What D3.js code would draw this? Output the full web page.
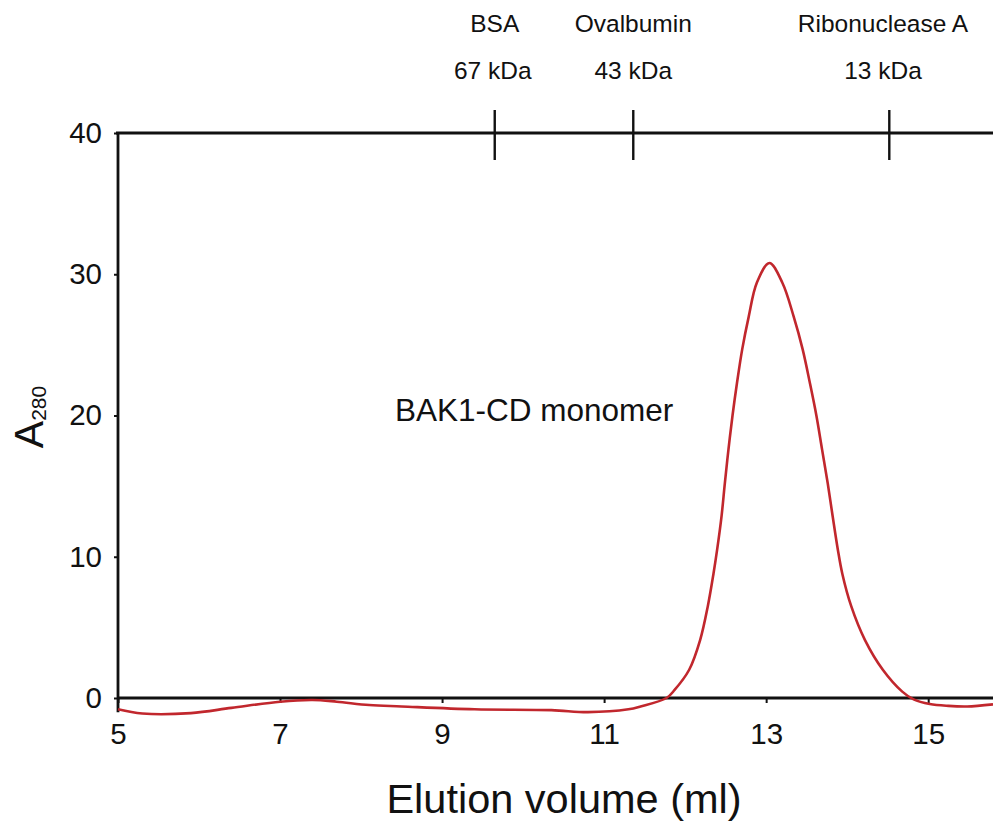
<!DOCTYPE html>
<html>
<head>
<meta charset="utf-8">
<script src="https://cdn.jsdelivr.net/npm/d3@7"></script>
<style>
  html, body { margin: 0; padding: 0; background: #fff; }
  svg { display: block; font-family: "Liberation Sans", Arial, sans-serif; }
</style>
</head>
<body>
<svg id="chart" width="993" height="824"></svg>
<script>
// Size-exclusion chromatogram of BAK1-CD with calibration standards

// Elution volume (ml) and absorbance at 280 nm
const volume = [5.0, 5.3, 5.9, 6.4, 7.0, 7.4, 7.7, 8.1, 8.5, 9.4, 10.35, 10.8, 11.3, 11.45,
  11.77, 11.87, 12.05, 12.185, 12.28, 12.35, 12.395, 12.45, 12.49, 12.535, 12.585, 12.64, 12.705,
  12.785, 12.885, 13.04, 13.2, 13.34, 13.45, 13.54, 13.62, 13.69, 13.76, 13.82, 13.885, 13.94,
  14.05, 14.22, 14.44, 14.68, 14.82, 15.02, 15.25, 15.48, 15.8];
const a280 = [-0.8, -1.1, -1.07, -0.7, -0.26, -0.14, -0.26, -0.5, -0.6, -0.8, -0.86, -1.0, -0.8, -0.6,
  0.0, 0.57, 2.0, 4.1, 6.5, 8.8, 10.5, 12.9, 15.2, 17.6, 20.0, 22.3, 24.7,
  27.0, 29.4, 30.8, 29.4, 27.0, 24.7, 22.3, 20.0, 17.6, 15.2, 12.9, 10.5, 8.8,
  6.5, 4.1, 2.0, 0.45, -0.1, -0.43, -0.56, -0.6, -0.45];

// Calibration standards
const standardNames = ["BSA", "Ovalbumin", "Ribonuclease A"];
const standardMasses = ["67 kDa", "43 kDa", "13 kDa"];
const standardVolumes = [9.65, 11.36, 14.52];

// Axis ticks
const xTicks = [5, 7, 9, 11, 13, 15];
const yTicks = [0, 10, 20, 30, 40];

const svg = d3.select("#chart");
const plotLeft = 118, plotRight = 993, plotTop = 133, plotBottom = 698;

const x = d3.scaleLinear().domain([5, 15.8]).range([plotLeft, plotRight]);
const y = d3.scaleLinear().domain([0, 40]).range([plotBottom, plotTop]);

const ink = "#111";
const font = "Liberation Sans, Arial, sans-serif";

// x axis (ticks + labels), frame lines drawn separately
const gx = svg.append("g")
  .attr("transform", `translate(0,${plotBottom})`)
  .call(d3.axisBottom(x).tickValues(xTicks).tickSize(5).tickSizeOuter(0).tickPadding(20));
gx.select(".domain").remove();
gx.selectAll(".tick line").attr("stroke", ink).attr("stroke-width", 2);
gx.selectAll(".tick text").attr("fill", ink).attr("font-size", 29.5).attr("font-family", font);

// y axis
const gy = svg.append("g")
  .attr("transform", `translate(${plotLeft},0)`)
  .call(d3.axisLeft(y).tickValues(yTicks).tickSize(4).tickSizeOuter(0).tickPadding(12));
gy.select(".domain").remove();
gy.selectAll(".tick line").attr("stroke", ink).attr("stroke-width", 2);
gy.selectAll(".tick text").attr("fill", ink).attr("font-size", 29.5).attr("font-family", font);

// frame: left, bottom (zero) and top lines
svg.append("line").attr("x1", plotLeft).attr("x2", plotLeft)
  .attr("y1", plotTop - 1).attr("y2", y(-1)).attr("stroke", ink).attr("stroke-width", 2.8);
svg.append("line").attr("x1", plotLeft).attr("x2", plotRight)
  .attr("y1", plotBottom).attr("y2", plotBottom).attr("stroke", ink).attr("stroke-width", 2.8);
svg.append("line").attr("x1", plotLeft - 2).attr("x2", plotRight)
  .attr("y1", plotTop).attr("y2", plotTop).attr("stroke", ink).attr("stroke-width", 2.8);

// chromatogram trace
const pts = volume.map((v, i) => [v, a280[i]]);
svg.append("path")
  .datum(pts)
  .attr("fill", "none")
  .attr("stroke", "#c1272d")
  .attr("stroke-width", 2.6)
  .attr("stroke-linejoin", "round")
  .attr("d", d3.line().x(d => x(d[0])).y(d => y(d[1])).curve(d3.curveCatmullRom.alpha(0.5)));

// standard markers on the top line
const std = svg.append("g");
standardVolumes.forEach((v, i) => {
  std.append("line")
    .attr("x1", x(v)).attr("x2", x(v))
    .attr("y1", plotTop - 23).attr("y2", plotTop + 27)
    .attr("stroke", ink).attr("stroke-width", 2.4);
  const cx = Math.min(x(v), 883);
  std.append("text").attr("x", cx).attr("y", 32)
    .attr("text-anchor", "middle").attr("font-size", 24.5).attr("font-family", font)
    .attr("fill", ink).text(standardNames[i]);
  std.append("text").attr("x", cx - (i === 0 ? 2 : 0)).attr("y", 79)
    .attr("text-anchor", "middle").attr("font-size", 24.5).attr("font-family", font)
    .attr("fill", ink).text(standardMasses[i]);
});

// peak annotation
svg.append("text").attr("x", 395).attr("y", 421)
  .attr("font-size", 31.5).attr("font-family", font).attr("fill", ink)
  .text("BAK1-CD monomer");

// axis titles
svg.append("text").attr("x", 564).attr("y", 813)
  .attr("text-anchor", "middle").attr("font-size", 41.5).attr("font-family", font)
  .attr("fill", ink).text("Elution volume (ml)");

const yt = svg.append("text")
  .attr("transform", "translate(43,417) rotate(-90)")
  .attr("text-anchor", "middle").attr("font-family", font).attr("fill", ink);
yt.append("tspan").attr("font-size", 41).text("A");
yt.append("tspan").attr("font-size", 21).attr("dy", 3).text("280");
</script>
</body>
</html>
